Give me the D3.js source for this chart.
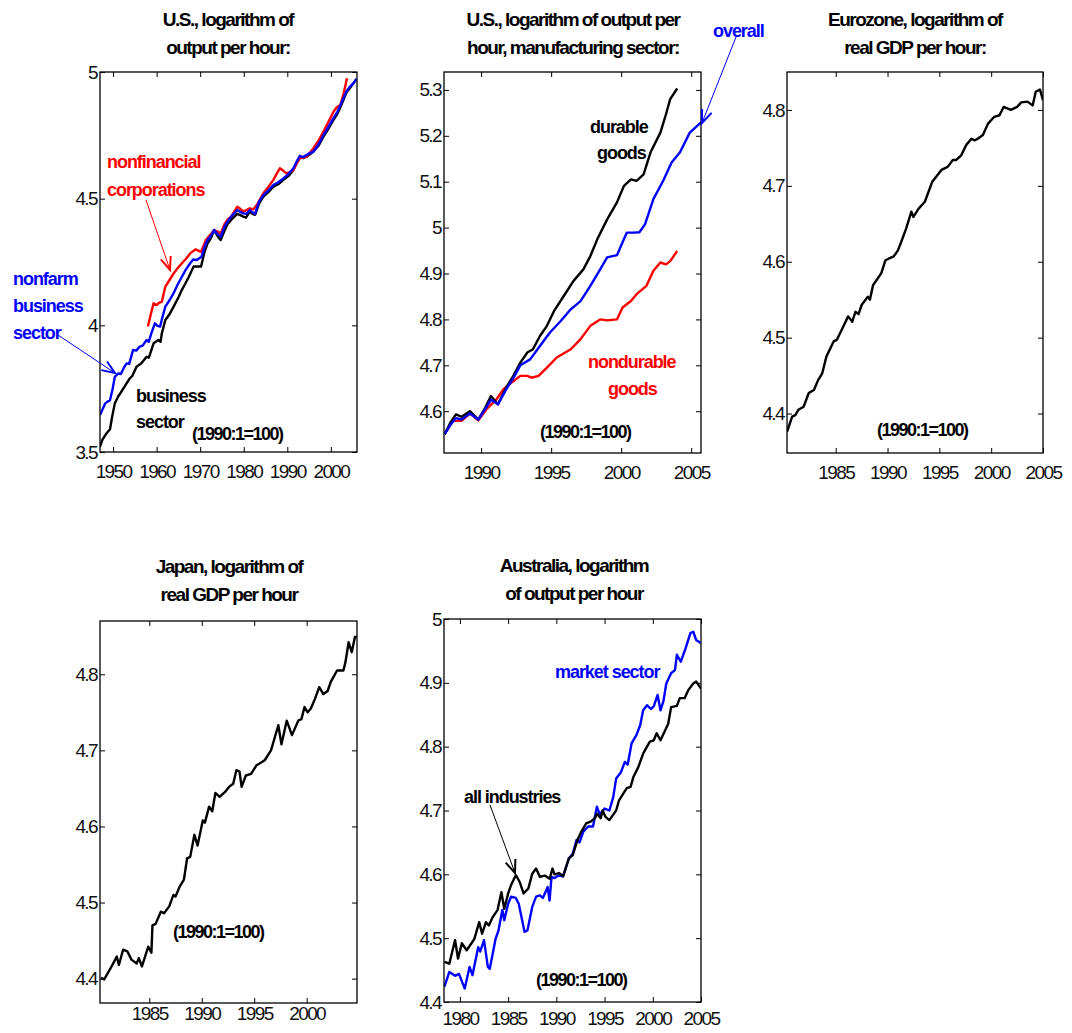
<!DOCTYPE html>
<html><head><meta charset="utf-8">
<script src="https://cdn.jsdelivr.net/npm/d3@7"></script>
<style>
body{margin:0;background:#fff}
text{font-family:"Liberation Sans",Arial,sans-serif}
</style>
</head><body>
<svg id="c" width="1072" height="1033"></svg>
<script>
// ---------- DATA ----------
// Panel 1: U.S. output per hour
const usBusiness = [[1947,3.521],[1947.6,3.55],[1948.5,3.574],[1949.3,3.59],[1949.8,3.64],[1950.4,3.692],[1951.2,3.72],[1951.8,3.735],[1953.1,3.771],[1953.8,3.79],[1954.4,3.80],[1955.4,3.837],[1956.5,3.85],[1957.7,3.876],[1958.2,3.872],[1959.3,3.929],[1960.4,3.942],[1960.9,3.935],[1961.2,3.969],[1962,4.021],[1963.0,4.045],[1963.9,4.074],[1965.0,4.11],[1965.8,4.14],[1966.6,4.165],[1967.4,4.192],[1968.5,4.232],[1969.3,4.232],[1970.2,4.232],[1971.0,4.29],[1971.7,4.324],[1972.5,4.345],[1973.2,4.376],[1974.0,4.352],[1974.7,4.337],[1975.5,4.37],[1976.3,4.40],[1977.1,4.416],[1978.5,4.44],[1979.2,4.435],[1979.9,4.429],[1980.5,4.425],[1981.4,4.449],[1982.0,4.44],[1982.6,4.436],[1983.5,4.48],[1984.5,4.508],[1985.6,4.525],[1986.8,4.547],[1988.0,4.558],[1989.1,4.574],[1990.3,4.59],[1991.4,4.613],[1992.2,4.645],[1992.9,4.666],[1993.6,4.66],[1994.5,4.666],[1995.2,4.675],[1996,4.686],[1997.2,4.71],[1998.3,4.745],[1999.5,4.778],[2000.6,4.811],[2001.5,4.835],[2002.2,4.862],[2002.9,4.89],[2003.6,4.92],[2004.3,4.935],[2005.2,4.956],[2005.9,4.973]];
const usNonfarm = [[1947,3.646],[1947.5,3.665],[1948.2,3.692],[1948.8,3.70],[1949.3,3.704],[1949.9,3.75],[1950.4,3.797],[1951.2,3.81],[1951.8,3.808],[1952.4,3.83],[1953.1,3.85],[1953.7,3.848],[1954.6,3.903],[1955.3,3.90],[1956.1,3.916],[1956.8,3.92],[1957.7,3.942],[1958.2,3.935],[1958.8,3.969],[1959.6,4.008],[1960.2,3.998],[1960.8,3.995],[1961.3,4.03],[1962,4.074],[1963.0,4.10],[1963.9,4.127],[1964.8,4.16],[1965.8,4.192],[1966.7,4.22],[1967.7,4.245],[1968.4,4.26],[1969.2,4.258],[1970.3,4.271],[1971.0,4.31],[1971.7,4.337],[1972.5,4.355],[1973.2,4.376],[1974.0,4.36],[1974.7,4.35],[1975.6,4.39],[1976.3,4.41],[1977.1,4.429],[1978.5,4.455],[1979.2,4.448],[1979.9,4.442],[1980.6,4.44],[1981.4,4.455],[1982.0,4.446],[1982.6,4.44],[1983.5,4.488],[1984.5,4.514],[1985.6,4.532],[1986.8,4.554],[1988.0,4.566],[1989.1,4.58],[1990.3,4.598],[1991.4,4.62],[1992.2,4.648],[1992.9,4.669],[1993.6,4.664],[1994.5,4.673],[1995.2,4.68],[1996,4.686],[1997.2,4.716],[1998.3,4.751],[1999.5,4.785],[2000.6,4.818],[2001.5,4.843],[2002.2,4.87],[2002.9,4.897],[2003.6,4.925],[2004.3,4.94],[2005.2,4.956],[2005.9,4.973]];
const usNonfinancial = [[1958,3.995],[1958.6,4.04],[1959.3,4.087],[1960,4.08],[1960.6,4.09],[1961.2,4.093],[1962,4.153],[1963,4.18],[1963.9,4.205],[1964.8,4.225],[1965.8,4.245],[1966.7,4.262],[1967.7,4.284],[1968.9,4.30],[1970.2,4.29],[1971.3,4.337],[1972.2,4.355],[1973.2,4.376],[1974.0,4.37],[1974.7,4.363],[1975.6,4.40],[1976.4,4.42],[1977.1,4.429],[1978.5,4.468],[1979.2,4.46],[1979.9,4.449],[1980.6,4.455],[1981.4,4.462],[1982.2,4.458],[1983,4.475],[1984.5,4.521],[1985.6,4.545],[1986.8,4.574],[1987.6,4.60],[1988.3,4.62],[1989.1,4.61],[1989.8,4.60],[1990.6,4.605],[1991.4,4.613],[1992.2,4.64],[1992.9,4.659],[1993.6,4.662],[1994.5,4.666],[1995.2,4.682],[1996,4.699],[1997.2,4.73],[1998.3,4.765],[1999.5,4.805],[2000.6,4.843],[2001.4,4.862],[2002.2,4.87],[2003.0,4.92],[2003.7,4.975]];
const usXTicks = [1950,1960,1970,1980,1990,2000];
const usYTicks = [3.5,4,4.5,5];

// Panel 2: U.S. manufacturing
const mfgDurable = [[1987.4,4.55],[1987.8,4.575],[1988.2,4.593],[1988.6,4.588],[1989.2,4.60],[1989.8,4.582],[1990.3,4.608],[1990.7,4.633],[1991.2,4.615],[1991.8,4.652],[1992.3,4.677],[1992.8,4.706],[1993.3,4.728],[1993.7,4.735],[1994.2,4.764],[1994.7,4.786],[1995.2,4.818],[1995.9,4.851],[1996.6,4.884],[1997.3,4.909],[1997.8,4.938],[1998.3,4.975],[1999,5.018],[1999.7,5.055],[2000.2,5.091],[2000.7,5.105],[2001.1,5.102],[2001.6,5.116],[2002.1,5.164],[2002.8,5.207],[2003.2,5.247],[2003.5,5.28],[2004.0,5.303]];
const mfgOverall = [[1987.4,4.55],[1987.8,4.57],[1988.2,4.585],[1988.6,4.582],[1989.2,4.595],[1989.8,4.582],[1990.3,4.605],[1990.7,4.625],[1991.2,4.615],[1991.8,4.648],[1992.3,4.672],[1992.8,4.70],[1993.5,4.713],[1994.2,4.742],[1994.9,4.771],[1995.7,4.797],[1996.4,4.822],[1997.1,4.84],[1997.8,4.873],[1998.5,4.909],[1999.0,4.935],[1999.7,4.94],[2000.2,4.975],[2000.4,4.989],[2000.9,4.989],[2001.3,4.99],[2001.7,5.007],[2002.3,5.062],[2003.0,5.102],[2003.6,5.142],[2004.2,5.164],[2004.9,5.207],[2005.7,5.229]];
const mfgNondurable = [[1987.4,4.55],[1988,4.579],[1988.6,4.579],[1989.2,4.595],[1989.8,4.58],[1990.4,4.605],[1991.1,4.626],[1991.6,4.648],[1992.2,4.663],[1992.8,4.677],[1993.3,4.677],[1993.6,4.673],[1994.1,4.677],[1994.7,4.695],[1995.4,4.717],[1996.4,4.735],[1997.1,4.757],[1997.8,4.786],[1998.5,4.80],[1999,4.798],[1999.7,4.80],[2000.1,4.826],[2000.7,4.84],[2001.1,4.855],[2001.8,4.873],[2002.3,4.906],[2002.8,4.924],[2003.2,4.92],[2003.5,4.927],[2004.0,4.949]];
const mfgXTicks = [1990,1995,2000,2005];
const mfgYTicks = [4.6,4.7,4.8,4.9,5,5.1,5.2,5.3];

// Panel 3: Eurozone
const euroGdpHour = [[1980.3,4.376],[1980.8,4.396],[1981.1,4.398],[1981.4,4.405],[1981.9,4.409],[1982.4,4.427],[1982.9,4.431],[1983.3,4.444],[1983.7,4.453],[1984.1,4.475],[1984.8,4.495],[1985.1,4.497],[1985.5,4.508],[1986.2,4.528],[1986.6,4.521],[1986.9,4.534],[1987.2,4.531],[1987.5,4.543],[1988.1,4.554],[1988.3,4.55],[1988.6,4.569],[1989.4,4.585],[1989.8,4.602],[1990.1,4.604],[1990.6,4.607],[1991.0,4.615],[1991.4,4.629],[1991.8,4.644],[1992.3,4.666],[1992.5,4.659],[1993,4.67],[1993.6,4.679],[1994.3,4.705],[1995.2,4.721],[1995.8,4.725],[1996.3,4.734],[1996.6,4.734],[1997.1,4.74],[1997.6,4.754],[1998.1,4.762],[1998.4,4.76],[1998.7,4.762],[1999.2,4.767],[1999.7,4.782],[2000.3,4.791],[2000.8,4.793],[2001.2,4.804],[2001.9,4.80],[2002.5,4.804],[2002.9,4.81],[2003.5,4.811],[2004.0,4.806],[2004.3,4.824],[2004.7,4.827],[2005,4.813]];
const euroXTicks = [1985,1990,1995,2000,2005];
const euroYTicks = [4.4,4.5,4.6,4.7,4.8];

// Panel 4: Japan
const japanGdpHour = [[1980.4,4.401],[1980.7,4.399],[1981.4,4.416],[1981.9,4.429],[1982.1,4.418],[1982.5,4.438],[1982.9,4.436],[1983.3,4.425],[1983.8,4.42],[1984,4.427],[1984.3,4.416],[1984.9,4.442],[1985.2,4.434],[1985.3,4.47],[1985.6,4.472],[1986.1,4.488],[1986.4,4.486],[1986.9,4.495],[1987.3,4.51],[1987.5,4.508],[1987.9,4.521],[1988.3,4.53],[1988.6,4.558],[1988.9,4.56],[1989.3,4.589],[1989.6,4.575],[1990.1,4.608],[1990.3,4.605],[1990.7,4.626],[1991,4.62],[1991.3,4.644],[1991.7,4.639],[1992.2,4.645],[1992.6,4.652],[1993,4.656],[1993.3,4.674],[1993.6,4.672],[1993.8,4.652],[1994.2,4.667],[1994.7,4.669],[1995.2,4.68],[1996,4.687],[1996.6,4.70],[1997.3,4.733],[1997.6,4.708],[1998.1,4.739],[1998.6,4.72],[1999.2,4.739],[1999.5,4.741],[1999.8,4.757],[2000.1,4.75],[2000.4,4.755],[2000.8,4.768],[2001.2,4.783],[2001.6,4.774],[2002,4.778],[2002.3,4.79],[2002.9,4.805],[2003.5,4.805],[2003.7,4.816],[2004.0,4.842],[2004.3,4.829],[2004.6,4.849],[2004.8,4.849]];
const japanXTicks = [1985,1990,1995,2000];
const japanYTicks = [4.4,4.5,4.6,4.7,4.8];

// Panel 5: Australia
const ausAllIndustries = [[1978.4,4.463],[1978.9,4.46],[1979.5,4.497],[1979.8,4.468],[1980.2,4.492],[1980.7,4.481],[1981.2,4.492],[1981.5,4.499],[1982,4.525],[1982.3,4.507],[1982.7,4.525],[1983,4.52],[1983.4,4.533],[1983.9,4.544],[1984.3,4.572],[1984.6,4.546],[1985,4.57],[1985.3,4.583],[1985.8,4.599],[1986.2,4.588],[1986.6,4.57],[1987.1,4.578],[1987.5,4.601],[1987.9,4.609],[1988.3,4.596],[1988.8,4.598],[1989.3,4.593],[1989.6,4.609],[1989.8,4.60],[1990.3,4.602],[1990.7,4.597],[1991.3,4.625],[1991.7,4.63],[1991.9,4.64],[1992.2,4.654],[1992.6,4.667],[1993.1,4.68],[1993.6,4.683],[1994,4.688],[1994.2,4.695],[1994.6,4.688],[1994.8,4.70],[1995.1,4.69],[1995.5,4.685],[1996.2,4.70],[1996.5,4.716],[1997.3,4.735],[1997.7,4.737],[1998,4.753],[1998.5,4.768],[1999,4.789],[1999.4,4.80],[1999.7,4.808],[2000.1,4.81],[2000.4,4.821],[2000.8,4.81],[2001.3,4.826],[2001.6,4.836],[2001.9,4.862],[2002.5,4.864],[2002.8,4.876],[2003.3,4.876],[2003.7,4.889],[2004.2,4.899],[2004.5,4.902],[2005,4.891]];
const ausMarketSector = [[1978.4,4.424],[1978.9,4.447],[1979.5,4.441],[1979.9,4.444],[1980.5,4.421],[1981,4.455],[1981.3,4.442],[1981.9,4.486],[1982.1,4.479],[1982.5,4.497],[1982.9,4.455],[1983.1,4.452],[1983.7,4.499],[1984,4.512],[1984.4,4.544],[1984.6,4.528],[1985,4.554],[1985.3,4.565],[1985.8,4.563],[1986.1,4.554],[1986.7,4.51],[1987,4.512],[1987.5,4.549],[1987.9,4.565],[1988.3,4.567],[1988.6,4.563],[1989.1,4.58],[1989.3,4.559],[1989.5,4.596],[1989.8,4.594],[1990.2,4.598],[1990.7,4.597],[1991.3,4.625],[1991.7,4.632],[1992.1,4.654],[1992.4,4.65],[1992.8,4.667],[1993.3,4.675],[1993.8,4.675],[1994.2,4.706],[1994.5,4.694],[1995,4.703],[1995.5,4.70],[1995.9,4.721],[1996.2,4.75],[1996.7,4.76],[1997.1,4.776],[1997.4,4.772],[1997.8,4.805],[1998.3,4.818],[1998.7,4.834],[1999,4.857],[1999.4,4.865],[1999.8,4.859],[2000.1,4.863],[2000.5,4.881],[2000.8,4.857],[2001.1,4.871],[2001.4,4.899],[2001.9,4.915],[2002.3,4.92],[2002.5,4.944],[2002.9,4.933],[2003.4,4.954],[2003.9,4.978],[2004.2,4.98],[2004.5,4.967],[2005,4.962]];
const ausXTicks = [1980,1985,1990,1995,2000,2005];
const ausYTicks = [4.4,4.5,4.6,4.7,4.8,4.9,5];

// ---------- DRAWING ----------
const BLACK = "#000", BLUE = "#0000ff", RED = "#ff0000";
const svg = d3.select("#c");
const defs = svg.append("defs");
let clipId = 0;

function panel(cfg) {
  const {l, r, t, b, xd, yd, xTicks, yTicks, series, xLabPad} = cfg;
  const x = d3.scaleLinear().domain(xd).range([l, r]);
  const y = d3.scaleLinear().domain(yd).range([b, t]);
  const id = "clip" + (clipId++);
  defs.append("clipPath").attr("id", id).append("rect")
    .attr("x", l).attr("y", t).attr("width", r - l).attr("height", b - t);
  const line = d3.line().x(d => x(d[0])).y(d => y(d[1]));
  const g = svg.append("g");
  const lg = g.append("g").attr("clip-path", `url(#${id})`);
  series.forEach(s => {
    lg.append("path").datum(s.data).attr("d", line)
      .attr("fill", "none").attr("stroke", s.color)
      .attr("stroke-width", 2.4).attr("stroke-linejoin", "round");
  });
  const styleAxis = sel => {
    sel.select(".domain").remove();
    sel.selectAll(".tick line").attr("stroke", "#000").attr("stroke-width", 1);
    sel.selectAll("text").attr("font-size", 19).attr("fill", "#111")
      .attr("letter-spacing", "-1.6px").attr("font-family", '"Liberation Sans",Arial,sans-serif');
  };
  g.append("g").attr("transform", `translate(0,${b})`)
    .call(d3.axisBottom(x).tickValues(xTicks).tickSize(-5).tickPadding(xLabPad).tickFormat(d => String(d)))
    .call(styleAxis);
  g.append("g").attr("transform", `translate(0,${t})`)
    .call(d3.axisTop(x).tickValues(xTicks).tickSize(-5).tickFormat(""))
    .call(styleAxis);
  g.append("g").attr("transform", `translate(${l},0)`)
    .call(d3.axisLeft(y).tickValues(yTicks).tickSize(-5).tickPadding(3).tickFormat(d => String(d)))
    .call(styleAxis);
  g.append("g").attr("transform", `translate(${r},0)`)
    .call(d3.axisRight(y).tickValues(yTicks).tickSize(-5).tickFormat(""))
    .call(styleAxis);
  g.append("rect").attr("x", l).attr("y", t).attr("width", r - l).attr("height", b - t)
    .attr("fill", "none").attr("stroke", "#000").attr("stroke-width", 1.3);
  return {x, y};
}

function label(txt, x, y, color, anchor, size, weight, ls) {
  svg.append("text").attr("x", x).attr("y", y).text(txt)
    .attr("fill", color || "#000").attr("text-anchor", anchor || "start")
    .attr("font-size", size || 18).attr("font-weight", weight || "bold")
    .attr("letter-spacing", (ls === undefined ? -1.05 : ls) + "px");
}
function note(x, y) { label("(1990:1=100)", x, y, "#000", "start", 18, "bold", -1.5); }
function title(lines, cx, y0) {
  lines.forEach((s, i) => label(s, cx, y0 + i * 27.5, "#000", "middle", 19, "bold", -1.5));
}
function arrow(x1, y1, x2, y2, color) {
  const g = svg.append("g").attr("stroke", color).attr("fill", "none");
  g.append("line").attr("x1", x1).attr("y1", y1).attr("x2", x2).attr("y2", y2).attr("stroke-width", 1);
  const a = Math.atan2(y2 - y1, x2 - x1), L = 14, w = 0.38;
  const p1 = [x2 - L * Math.cos(a - w), y2 - L * Math.sin(a - w)];
  const p2 = [x2 - L * Math.cos(a + w), y2 - L * Math.sin(a + w)];
  g.append("path").attr("d", `M${p1}L${x2},${y2}L${p2}`).attr("stroke-width", 2);
}

// Panel 1
panel({l:100, r:357, t:72, b:452, xd:[1947,2006], yd:[3.5,5], xTicks:usXTicks, yTicks:usYTicks, xLabPad:13,
  series:[{data:usBusiness,color:BLACK},{data:usNonfinancial,color:RED},{data:usNonfarm,color:BLUE}]});
title(["U.S., logarithm of","output per hour:"], 228, 26);
label("nonfinancial", 107, 168, RED);
label("corporations", 107, 196, RED);
arrow(146, 200, 170, 270, RED);
label("nonfarm", 13, 285, BLUE);
label("business", 13, 312, BLUE);
label("sector", 13, 339, BLUE);
arrow(58, 335, 115, 373, BLUE);
label("business", 136, 402, BLACK);
label("sector", 136, 428, BLACK);
note(192, 440);

// Panel 2
panel({l:444, r:701, t:72, b:453, xd:[1987.35,2005.7], yd:[4.509,5.339], xTicks:mfgXTicks, yTicks:mfgYTicks, xLabPad:13,
  series:[{data:mfgNondurable,color:RED},{data:mfgDurable,color:BLACK},{data:mfgOverall,color:BLUE}]});
title(["U.S., logarithm of output per","hour, manufacturing sector:"], 573, 26);
label("durable", 590, 133, BLACK);
label("goods", 597, 159, BLACK);
label("nondurable", 588, 368, RED);
label("goods", 608, 395, RED);
note(540, 438);
label("overall", 713, 37, BLUE);
arrow(736, 37, 702, 123, BLUE);

// Panel 3
panel({l:787, r:1043, t:72, b:453, xd:[1980.3,2005], yd:[4.348,4.85], xTicks:euroXTicks, yTicks:euroYTicks, xLabPad:13,
  series:[{data:euroGdpHour,color:BLACK}]});
title(["Eurozone, logarithm of","real GDP per hour:"], 915, 26);
note(877, 436);

// Panel 4
panel({l:100, r:357, t:621, b:1003, xd:[1980.3,2004.8], yd:[4.368,4.87], xTicks:japanXTicks, yTicks:japanYTicks, xLabPad:3,
  series:[{data:japanGdpHour,color:BLACK}]});
title(["Japan, logarithm of","real GDP per hour"], 229, 573);
note(173, 938);

// Panel 5
panel({l:444, r:701, t:619, b:1002, xd:[1978.35,2005], yd:[4.4,5], xTicks:ausXTicks, yTicks:ausYTicks, xLabPad:10,
  series:[{data:ausMarketSector,color:BLUE},{data:ausAllIndustries,color:BLACK}]});
title(["Australia, logarithm","of output per hour"], 574, 572);
label("market sector", 555, 678, BLUE);
label("all industries", 464, 803, BLACK);
arrow(490, 805, 515, 873, BLACK);
note(536, 986);
</script>
</body></html>
